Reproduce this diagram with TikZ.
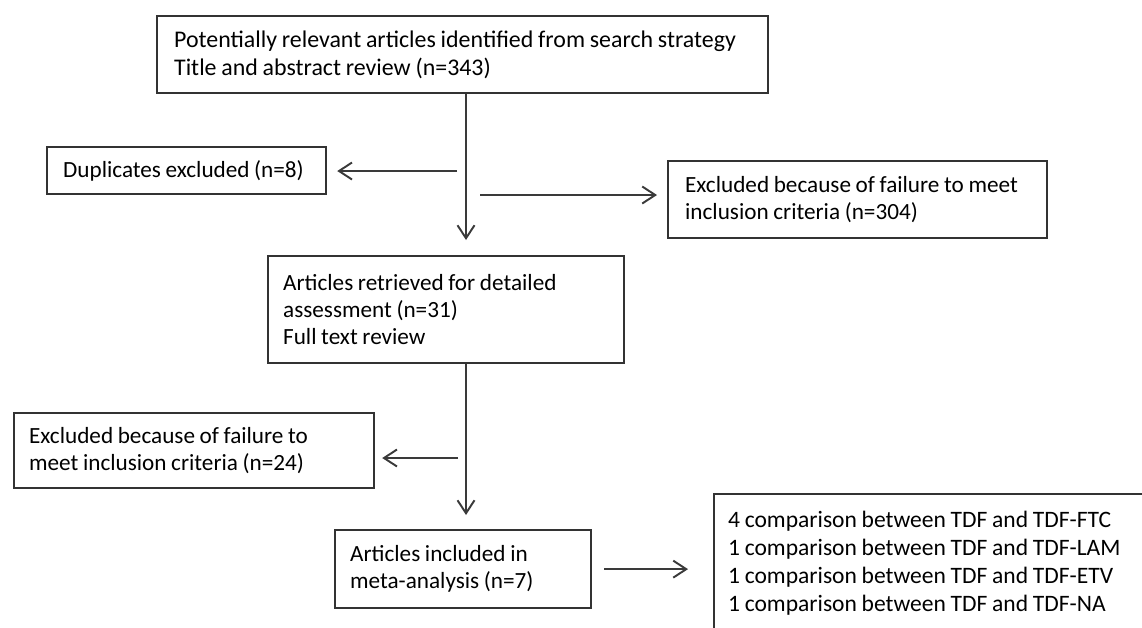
\documentclass[tikz,border=0pt]{standalone}
\usepackage{fontspec}
\setmainfont{Carlito}
\usetikzlibrary{arrows.meta, positioning, calc}
\definecolor{boxline}{HTML}{333333}
\definecolor{arrowline}{HTML}{3A3A3A}
\newcommand\boxfont[2]{\fontsize{#1}{#2}\selectfont\spaceskip=0.2em plus 0.05em\relax}
\tikzset{
  flowbox/.style={draw=boxline, line width=1.3pt, anchor=north west, align=flush left,
    inner ysep=0pt, font=\boxfont{13.2}{15.4}},
  flowarrow/.style={draw=arrowline, line width=1.1pt,
    -{Straight Barb[length=2.6mm, width=3.4mm, line width=1.1pt]}}
}

\begin{document}
\begin{tikzpicture}[x=0.02cm, y=-0.02cm]
\useasboundingbox (0,0) rectangle (1142,627);
\clip (0,0) rectangle (1142,627);

% boxes
\node[flowbox, inner xsep=0.34cm, text width=11.54cm, minimum height=1.54cm,
  font=\boxfont{13.6}{16.2}] (search) at (156,15)
  {Potentially relevant articles identified from search strategy\\Title and abstract review (n=343)};
\node[flowbox, inner xsep=0.32cm, text width=4.94cm, minimum height=0.94cm] (dup) at (46,146)
  {Duplicates excluded (n=8)};
\node[flowbox, inner xsep=0.34cm, text width=6.90cm, minimum height=1.54cm] (excl) at (667,160)
  {Excluded because of failure to meet\\inclusion criteria (n=304)};
\node[flowbox, inner xsep=0.30cm, text width=6.52cm, minimum height=2.14cm] (full) at (267,255)
  {Articles retrieved for detailed\\assessment (n=31)\\Full text review};
\node[flowbox, inner xsep=0.30cm, text width=6.60cm, minimum height=1.50cm] (exclfull) at (13,412)
  {Excluded because of failure to\\meet inclusion criteria (n=24)};
\node[flowbox, inner xsep=0.30cm, text width=4.52cm, minimum height=1.56cm] (incl) at (334,529)
  {Articles included in\\meta-analysis (n=7)};
\node[flowbox, inner xsep=0.28cm, text width=8.38cm, minimum height=2.76cm,
  font=\boxfont{13.4}{15.8}] (comp) at (713,493)
  {4 comparison between TDF and TDF-FTC\\1 comparison between TDF and TDF-LAM\\1 comparison between TDF and TDF-ETV\\1 comparison between TDF and TDF-NA};

% split points on the main line
\coordinate (spine) at (466,0);
\coordinate (dupsplit) at (457,171);
\coordinate (exclsplit) at (480,195);
\coordinate (fullsplit) at (458,458);

% connectors
\draw[flowarrow, shorten >=0.30cm] (search.south -| spine) -- (full.north -| spine);
\draw[flowarrow, shorten >=0.20cm] (dupsplit) -- (dupsplit -| dup.east);
\draw[flowarrow, shorten >=0.20cm] (exclsplit) -- (exclsplit -| excl.west);
\draw[flowarrow, shorten >=0.28cm] (full.south -| spine) -- (incl.north -| spine);
\draw[flowarrow, shorten >=0.14cm] (fullsplit) -- (fullsplit -| exclfull.east);
\draw[flowarrow, shorten <=0.24cm, shorten >=0.50cm] (incl.east) -- (incl.east -| comp.west);
\end{tikzpicture}
\end{document}
